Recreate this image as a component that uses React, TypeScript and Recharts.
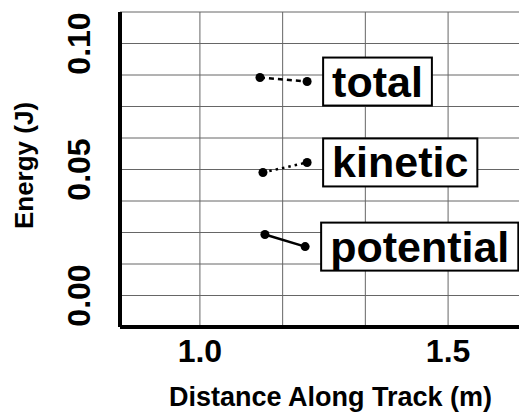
import React from 'react';
import { LineChart, Line, XAxis, YAxis, CartesianGrid } from 'recharts';

// Series values
const totalX = [1.121, 1.216];
const totalY = [0.0865, 0.0849];
const kineticX = [1.127, 1.216];
const kineticY = [0.0488, 0.0528];
const potentialX = [1.131, 1.212];
const potentialY = [0.0242, 0.0194];

const seriesNames = ['total', 'kinetic', 'potential'];

// Axis ticks (grid positions) and labelled ticks
const xTicks = [1.0, 1.1667, 1.3333, 1.5];
const xLabelTicks = [1.0, 1.5];
const xTickLabels = ['1.0', '1.5'];
const yTicks = [-0.0125, 0, 0.0125, 0.025, 0.0375, 0.05, 0.0625, 0.075, 0.0875, 0.1, 0.1125];
const yLabelTicks = [0, 0.05, 0.1];
const yTickLabels = ['0.00', '0.05', '0.10'];

const xDomain = [0.839, 1.659];
const yDomain = [-0.0125, 0.1125];

const zip = (xs: number[], ys: number[]) => xs.map((x, i) => ({ x, y: ys[i] }));
const totalData = zip(totalX, totalY);
const kineticData = zip(kineticX, kineticY);
const potentialData = zip(potentialX, potentialY);

const FONT = '"Liberation Sans", Arial, Helvetica, sans-serif';

// Arial Bold advance widths (per em) for label box sizing
const CW: Record<string, number> = {
  t: 0.333, o: 0.611, a: 0.556, l: 0.278, k: 0.556, i: 0.278, n: 0.611, e: 0.556, c: 0.556, p: 0.611,
};
const textWidth = (s: string, size: number) =>
  s.split('').reduce((w, ch) => w + (CW[ch] ?? 0.6), 0) * size;

const findLabel = (v: number, ticks: number[], labels: string[]) => {
  const i = ticks.findIndex((t) => Math.abs(t - v) < 1e-6);
  return i >= 0 ? labels[i] : '';
};

const XTick = (props: any) => {
  const { x, y, payload } = props;
  const label = findLabel(payload.value, xLabelTicks, xTickLabels);
  if (!label) return null;
  return (
    <text x={x} y={y + 35} textAnchor="middle" fontFamily={FONT} fontWeight="bold" fontSize={32} fill="#000">
      {label}
    </text>
  );
};

const YTick = (props: any) => {
  const { x, y, payload } = props;
  const label = findLabel(payload.value, yLabelTicks, yTickLabels);
  if (!label) return null;
  return (
    <text
      transform={`translate(${x - 30}, ${y}) rotate(-90)`}
      textAnchor="middle"
      fontFamily={FONT}
      fontWeight="bold"
      fontSize={32}
      fill="#000"
    >
      {label}
    </text>
  );
};

const BOX_FONT = 43;

const makeBoxLabel = (name: string, lastIndex: number) => (props: any) => {
  const { x, y, index } = props;
  if (index !== lastIndex) return null;
  const w = textWidth(name, BOX_FONT) + 18;
  const bx = x + 16;
  return (
    <g>
      <rect x={bx} y={y - 24} width={w} height={48} fill="#fff" stroke="#000" strokeWidth={2} />
      <text x={bx + 9} y={y + 15} fontFamily={FONT} fontWeight="bold" fontSize={BOX_FONT} fill="#000">
        {name}
      </text>
    </g>
  );
};

const dotStyle = { r: 4.5, fill: '#000', stroke: 'none', strokeWidth: 0, strokeDasharray: '' };

export default function App() {
  return (
    <div style={{ width: 519, height: 404, overflow: 'hidden' }}>
      <LineChart width={519} height={404} margin={{ top: 4, right: 0, bottom: 0, left: 0 }}>
        <CartesianGrid stroke="#666" strokeWidth={1} />
        <XAxis
          type="number"
          dataKey="x"
          domain={xDomain}
          ticks={xTicks}
          allowDataOverflow
          height={85}
          tickLine={false}
          tickSize={0}
          tickMargin={0}
          tick={<XTick />}
          axisLine={{ stroke: '#000', strokeWidth: 4 }}
          label={(p: any) => {
            const vb = p.viewBox;
            return (
              <text
                x={vb.x + vb.width / 2 + 7}
                y={vb.y + 79}
                textAnchor="middle"
                fontFamily={FONT}
                fontWeight="bold"
                fontSize={27}
                fill="#000"
              >
                Distance Along Track (m)
              </text>
            );
          }}
        />
        <YAxis
          type="number"
          domain={yDomain}
          ticks={yTicks}
          allowDataOverflow
          width={112}
          tickLine={false}
          tickSize={0}
          tickMargin={0}
          tick={<YTick />}
          axisLine={{ stroke: '#000', strokeWidth: 4 }}
          label={(p: any) => {
            const vb = p.viewBox;
            return (
              <text
                transform={`translate(${vb.x + 25}, ${vb.y + vb.height / 2 - 4}) rotate(-90)`}
                textAnchor="middle"
                fontFamily={FONT}
                fontWeight="bold"
                fontSize={26}
                fill="#000"
              >
                Energy (J)
              </text>
            );
          }}
        />
        <Line
          data={totalData}
          dataKey="y"
          stroke="#000"
          strokeWidth={2.5}
          strokeDasharray="5 4"
          dot={dotStyle}
          isAnimationActive={false}
          label={makeBoxLabel(seriesNames[0], totalData.length - 1)}
        />
        <Line
          data={kineticData}
          dataKey="y"
          stroke="#000"
          strokeWidth={2.5}
          strokeDasharray="2.5 4"
          dot={dotStyle}
          isAnimationActive={false}
          label={makeBoxLabel(seriesNames[1], kineticData.length - 1)}
        />
        <Line
          data={potentialData}
          dataKey="y"
          stroke="#000"
          strokeWidth={2.5}
          dot={dotStyle}
          isAnimationActive={false}
          label={makeBoxLabel(seriesNames[2], potentialData.length - 1)}
        />
      </LineChart>
    </div>
  );
}
